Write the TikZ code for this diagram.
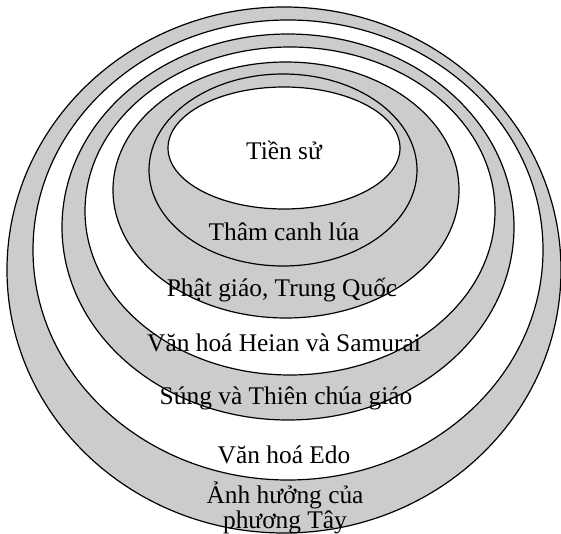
\documentclass[tikz,border=0pt]{standalone}
\usepackage{fontspec}
\setmainfont{Liberation Serif}
\definecolor{ringgray}{gray}{0.8}
\begin{document}
\begin{tikzpicture}[x=0.5pt,y=-0.5pt,
  ring/.style={draw=black,line width=0.6pt},
  lbl/.style={font=\fontsize{12.7}{12.5}\selectfont,align=center,inner sep=0pt}]
\useasboundingbox (0,0) rectangle (561,534);
% rings, outside in
\foreach \cx/\cy/\rx/\ry/\col in {284/270/277/263/ringgray,288/250/255/230/white,288/227/226/193/ringgray,290/211/205/164/white,286/190/173/128/ringgray,283/170/134/96/ringgray,284/148/116/61/white}
{
  \filldraw[ring,fill=\col] (\cx,\cy) ellipse ({\rx} and {\ry});
}
\node[lbl] (tienSu) at (284,150) {Tiền sử};
\node[lbl] (thamCanh) at (284,232) {Thâm canh lúa};
\node[lbl] (phatGiao) at (282,290) {Phật giáo, Trung Quốc};
\node[lbl] (heian) at (284,343) {Văn hoá Heian và Samurai};
\node[lbl] (sung) at (286,398) {Súng và Thiên chúa giáo};
\node[lbl] (edo) at (284,455) {Văn hoá Edo};
\node[lbl] (phuongTay) at (285,508) {Ảnh hưởng của\\phương Tây};
\end{tikzpicture}
\end{document}
